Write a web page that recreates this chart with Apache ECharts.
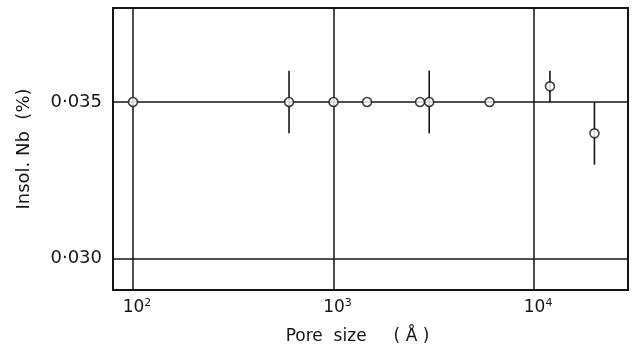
<!DOCTYPE html>
<html>
<head>
<meta charset="utf-8">
<script src="https://cdn.jsdelivr.net/npm/echarts@6/dist/echarts.min.js"></script>
<style>
  html, body { margin: 0; padding: 0; background: #fff; }
  #chart { width: 636px; height: 354px; }
</style>
</head>
<body>
<div id="chart"></div>
<script>
// Pore size (Å) of each sample and the insoluble Nb content measured
const poreSize = [100, 600, 1000, 1470, 2700, 3000, 6000, 12000, 20000];
const insolNb  = [0.035, 0.035, 0.035, 0.035, 0.035, 0.035, 0.035, 0.0355, 0.034];
// Spread of the measurements (null where no bar is drawn)
const errLow   = [null, 0.034, null, null, null, 0.034, null, 0.035, 0.033];
const errHigh  = [null, 0.036, null, null, null, 0.036, null, 0.036, 0.035];

const xTicks = [100, 1000, 10000];
const xTickExponents = ['2', '3', '4'];
const yTicks = [0.030, 0.035];
const yTickLabels = ['0·030', '0·035'];

const ink = '#151515';
const font = 'DejaVu Sans';

const points = poreSize.map((x, i) => [x, insolNb[i]]);
const bars = poreSize
  .map((x, i) => [x, errLow[i], errHigh[i]])
  .filter(d => d[1] !== null);

const chart = echarts.init(document.getElementById('chart'), null, { renderer: 'canvas' });
chart.setOption({
  animation: false,
  backgroundColor: '#fff',
  grid: {
    left: 113, right: 8, top: 8, bottom: 64,
    show: true, borderColor: ink, borderWidth: 2, backgroundColor: 'transparent'
  },
  xAxis: {
    type: 'log',
    logBase: 10,
    min: 79.5,
    max: 29400,
    name: 'Pore  size     ( Å )',
    nameLocation: 'middle',
    nameGap: 38,
    nameTextStyle: { fontFamily: font, fontSize: 17, color: ink, padding: [0, 26, 0, 0] },
    axisLine: { show: false },
    axisTick: { show: false, customValues: xTicks },
    axisLabel: {
      customValues: xTicks,
      formatter: v => {
        const i = xTicks.findIndex(t => Math.abs(Math.log10(t) - Math.log10(v)) < 1e-6);
        return i < 0 ? '' : '{b|10}{s|' + xTickExponents[i] + '}';
      },
      margin: 8,
      color: ink,
      rich: {
        b: { fontFamily: font, fontSize: 17, color: ink, padding: [0, 0, 0, 8] },
        s: { fontFamily: font, fontSize: 11, color: ink, padding: [0, 0, 8, 0] }
      }
    },
    splitLine: { show: true, lineStyle: { color: ink, width: 1.5 } }
  },
  yAxis: {
    type: 'value',
    min: 0.029,
    max: 0.038,
    name: 'Insol. Nb  (%)',
    nameLocation: 'middle',
    nameGap: 80,
    nameTextStyle: { fontFamily: font, fontSize: 18, color: ink },
    axisLine: { show: false },
    axisTick: { show: false, customValues: yTicks },
    axisLabel: {
      customValues: yTicks,
      formatter: v => yTickLabels[yTicks.findIndex(t => Math.abs(t - v) < 1e-9)] || '',
      fontFamily: font, fontSize: 18, color: ink, margin: 11
    },
    splitLine: { show: true, lineStyle: { color: ink, width: 1.5 } }
  },
  series: [
    {
      type: 'custom',
      name: 'spread',
      data: bars,
      encode: { x: 0, y: [1, 2] },
      z: 3,
      renderItem: (params, api) => {
        const lo = api.coord([api.value(0), api.value(1)]);
        const hi = api.coord([api.value(0), api.value(2)]);
        return {
          type: 'line',
          shape: { x1: lo[0], y1: lo[1], x2: hi[0], y2: hi[1] },
          style: { stroke: ink, lineWidth: 1.6 }
        };
      }
    },
    {
      type: 'scatter',
      name: 'Insol. Nb',
      data: points,
      z: 4,
      symbol: 'circle',
      symbolSize: 9,
      itemStyle: { color: '#fff', borderColor: ink, borderWidth: 1.6 }
    }
  ]
});
</script>
</body>
</html>
